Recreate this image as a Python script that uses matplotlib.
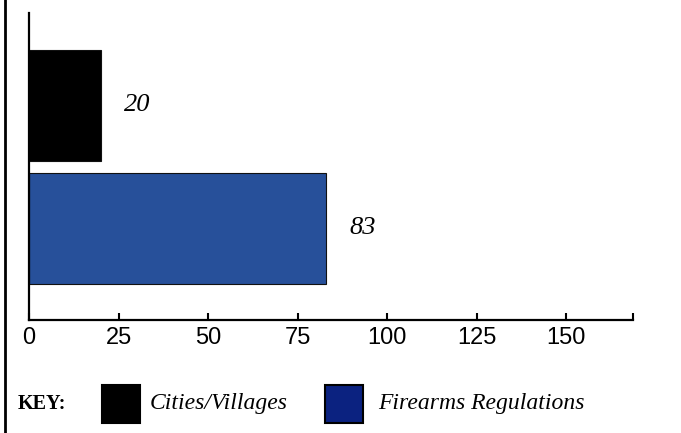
import matplotlib.pyplot as plt
from matplotlib.patches import Rectangle
from matplotlib.lines import Line2D

categories = ["Cities/Villages", "Firearms Regulations"]
values = [20, 83]
labels = ["20", "83"]
colors = ["#000000", "#27509a"]
key_colors = ["#000000", "#0b2280"]
xticks = [0, 25, 50, 75, 100, 125, 150]

W, H = 681, 433
fig = plt.figure(figsize=(W / 100, H / 100), dpi=100)
ax = fig.add_axes([29 / W, 1 - 320 / H, (633 - 29) / W, (320 - 13) / H])

pos = list(range(len(values)))
ax.barh(pos, values, height=0.9, color=colors, edgecolor="#111111", linewidth=0.8)

for p, v, lab in zip(pos, values, labels):
    ax.annotate(lab, (v, p), xytext=(17, 0), textcoords="offset points",
                ha="left", va="center", fontsize=19, style="italic",
                family="Liberation Serif")

ax.set_xlim(0, 168.7)
ax.set_ylim(1.744, -0.752)
ax.set_xticks(xticks)
ax.set_xticks([168.7], minor=True)
ax.set_yticks([])
ax.tick_params(axis="x", which="both", direction="in", length=5, width=1.5,
               pad=5, labelsize=17)
for t in ax.get_xticklabels():
    t.set_family("Liberation Sans")
for s in ["top", "right"]:
    ax.spines[s].set_visible(False)
for s in ["left", "bottom"]:
    ax.spines[s].set_linewidth(1.6)

# left border of the frame
fig.add_artist(Line2D([5 / W, 5 / W], [0, 1], color="black", lw=2))

# key row
fig.text(18 / W, 1 - 404 / H, "KEY:", fontsize=14.5, fontweight="bold",
         family="Liberation Serif", va="center", ha="left")
key_x = [102, 325]
text_x = [150, 378]
for kx, tx, c, name in zip(key_x, text_x, key_colors, categories):
    fig.add_artist(Rectangle((kx / W, 1 - 423 / H), 38 / W, 38 / H,
                             facecolor=c, edgecolor="black", lw=1.5))
    fig.text(tx / W, 1 - 404 / H, name, fontsize=17, style="italic",
             family="Liberation Serif", va="center", ha="left")

fig.savefig("out.png", dpi=100)
